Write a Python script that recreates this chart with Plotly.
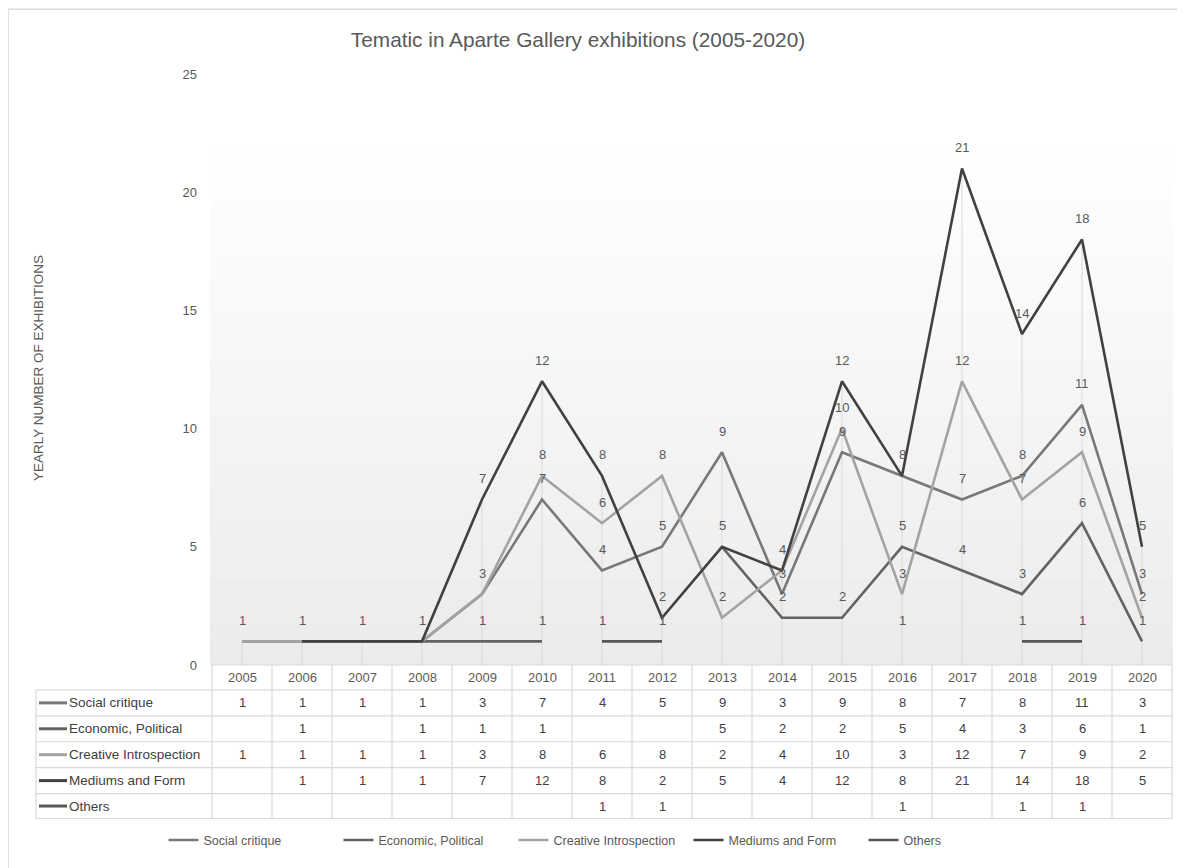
import plotly.graph_objects as go

# ---------------- data ----------------
years = [str(y) for y in range(2005, 2021)]
series_names = ["Social critique", "Economic, Political", "Creative Introspection",
                "Mediums and Form", "Others"]
social_critique = [1, 1, 1, 1, 3, 7, 4, 5, 9, 3, 9, 8, 7, 8, 11, 3]
economic_political = [None, 1, None, 1, 1, 1, None, None, 5, 2, 2, 5, 4, 3, 6, 1]
creative_introspection = [1, 1, 1, 1, 3, 8, 6, 8, 2, 4, 10, 3, 12, 7, 9, 2]
mediums_and_form = [None, 1, 1, 1, 7, 12, 8, 2, 5, 4, 12, 8, 21, 14, 18, 5]
others = [None, None, None, None, None, None, 1, 1, None, None, None, 1, None, 1, 1, None]
y_ticks = [0, 5, 10, 15, 20, 25]

title_text = "Tematic in Aparte Gallery exhibitions (2005-2020)"
y_title = "YEARLY NUMBER OF EXHIBITIONS"

all_series = [social_critique, economic_political, creative_introspection,
              mediums_and_form, others]
colors = ["#787878", "#636363", "#a3a3a3", "#414141", "#575757"]

FONT = "Liberation Sans, Arial, sans-serif"
LABEL_C = "#595959"
TEXT_C = "#404040"
GRID_C = "#d9d9d9"

# ---------------- geometry (reference pixels) ----------------
OFF = 8                      # page body margin of the html page
W, H = 1185 - OFF, 868 - OFF
PL, PR, PT, PB = 212, 1172, 74, 667


def px_x(p):
    return (p - PL) / (PR - PL)


def px_y(p):
    return (PB - p) / (PB - PT)


fig = go.Figure()

# drop lines (from 0 to the highest value of each year)
dx, dy = [], []
for i, yr in enumerate(years):
    vals = [s[i] for s in all_series if s[i] is not None]
    dx += [yr, yr, None]
    dy += [0, max(vals), None]
fig.add_trace(go.Scatter(x=dx, y=dy, mode="lines", line=dict(color=GRID_C, width=1),
                         showlegend=False, hoverinfo="skip"))

# series
for name, vals, c in zip(series_names, all_series, colors):
    fig.add_trace(go.Scatter(x=years, y=vals, name=name, mode="lines",
                             line=dict(color=c, width=2.6), connectgaps=False))

annotations = []
# data labels (x given as category index); identical labels at one spot drawn once
seen = set()
for vals in all_series:
    for i, v in enumerate(vals):
        if v is None or (i, v) in seen:
            continue
        seen.add((i, v))
        annotations.append(dict(x=i, y=v, xref="x", yref="y", text=str(v),
                                showarrow=False, yshift=21,
                                font=dict(size=13, color=LABEL_C, family=FONT)))

# ---------------- data table ----------------
row_edges = [667, 692, 718, 744, 770, 796, 821]
header_c = (row_edges[0] + row_edges[1]) / 2
for i, yr in enumerate(years):
    annotations.append(dict(x=i, y=px_y(header_c), xref="x", yref="paper", text=yr,
                            showarrow=False, yanchor="middle",
                            font=dict(size=13, color=LABEL_C, family=FONT)))

shapes = []
for r, (name, vals, c) in enumerate(zip(series_names, all_series, colors)):
    cy = (row_edges[r + 1] + row_edges[r + 2]) / 2
    annotations.append(dict(x=px_x(67), y=px_y(cy), xref="paper", yref="paper",
                            text=name, showarrow=False, xanchor="left", yanchor="middle",
                            font=dict(size=13.5, color=TEXT_C, family=FONT)))
    shapes.append(dict(type="line", xref="paper", yref="paper",
                       x0=px_x(39), x1=px_x(67), y0=px_y(cy), y1=px_y(cy),
                       line=dict(color=c, width=3)))
    for i, v in enumerate(vals):
        if v is None:
            continue
        annotations.append(dict(x=i, y=px_y(cy), xref="x", yref="paper", text=str(v),
                                showarrow=False, yanchor="middle",
                                font=dict(size=13, color=TEXT_C, family=FONT)))

# table grid lines
shapes.append(dict(type="line", xref="paper", yref="paper", x0=px_x(PL), x1=px_x(PR),
                   y0=px_y(row_edges[0]), y1=px_y(row_edges[0]),
                   line=dict(color=GRID_C, width=1.2)))
for e in row_edges[1:]:
    shapes.append(dict(type="line", xref="paper", yref="paper", x0=px_x(36), x1=px_x(PR),
                       y0=px_y(e), y1=px_y(e), line=dict(color=GRID_C, width=1.2)))
shapes.append(dict(type="line", xref="paper", yref="paper", x0=px_x(36), x1=px_x(36),
                   y0=px_y(row_edges[1]), y1=px_y(row_edges[-1]),
                   line=dict(color=GRID_C, width=1.2)))
n = len(years)
for k in range(n + 1):
    xx = k / n
    shapes.append(dict(type="line", xref="paper", yref="paper", x0=xx, x1=xx,
                       y0=px_y(row_edges[0]), y1=px_y(row_edges[-1]),
                       line=dict(color=GRID_C, width=1.2)))

# gradient plot background
g_top, g_bot, nb = 140, PB, 48
step = (g_bot - g_top) / nb
for k in range(nb):
    t = (k + 0.5) / nb
    g = int(round(255 - t * (255 - 235)))
    shapes.append(dict(type="rect", xref="paper", yref="paper", layer="below",
                       x0=px_x(210), x1=px_x(1173),
                       y0=px_y(g_top + (k + 1) * step), y1=px_y(g_top + k * step),
                       fillcolor=f"rgb({g},{g},{g})", line=dict(width=0)))

# outer chart frame (top and left edges visible)
shapes.append(dict(type="line", xref="paper", yref="paper", x0=px_x(8), x1=px_x(1200),
                   y0=px_y(9), y1=px_y(9), line=dict(color=GRID_C, width=1.5)))
shapes.append(dict(type="line", xref="paper", yref="paper", x0=px_x(8), x1=px_x(8),
                   y0=px_y(9), y1=px_y(880), line=dict(color=GRID_C, width=1.5)))

# y-axis title
annotations.append(dict(x=px_x(38), y=px_y(369), xref="paper", yref="paper", text=y_title,
                        showarrow=False, textangle=-90, xanchor="center", yanchor="middle",
                        font=dict(size=13.5, color=LABEL_C, family=FONT)))

fig.update_layout(
    width=W, height=H,
    margin=dict(l=PL - OFF, r=1185 - PR, t=PT - OFF, b=868 - PB, pad=0),
    paper_bgcolor="white", plot_bgcolor="rgba(0,0,0,0)",
    font=dict(family=FONT, color=LABEL_C),
    title=dict(text=title_text, x=(578 - OFF) / W, xref="container", xanchor="center",
               y=1 - (40 - OFF) / H, yref="container", yanchor="middle",
               font=dict(size=20.8, color=LABEL_C, family=FONT)),
    xaxis=dict(type="category", categoryorder="array", categoryarray=years,
               range=[-0.5, len(years) - 0.5], showticklabels=False, showgrid=False,
               showline=False, zeroline=False, ticks=""),
    yaxis=dict(range=[0, 25], tickvals=y_ticks, showgrid=False, showline=False,
               zeroline=False, ticks="", ticklabelstandoff=14,
               tickfont=dict(size=13, color=LABEL_C, family=FONT)),
    legend=dict(orientation="h", x=px_x(601), xanchor="center", y=px_y(843),
                yanchor="middle", font=dict(size=12.5, color=LABEL_C, family=FONT),
                bgcolor="rgba(0,0,0,0)", entrywidthmode="pixels", entrywidth=130),
    annotations=annotations,
    shapes=shapes,
    hovermode=False,
)

fig.write_html("out.html")
